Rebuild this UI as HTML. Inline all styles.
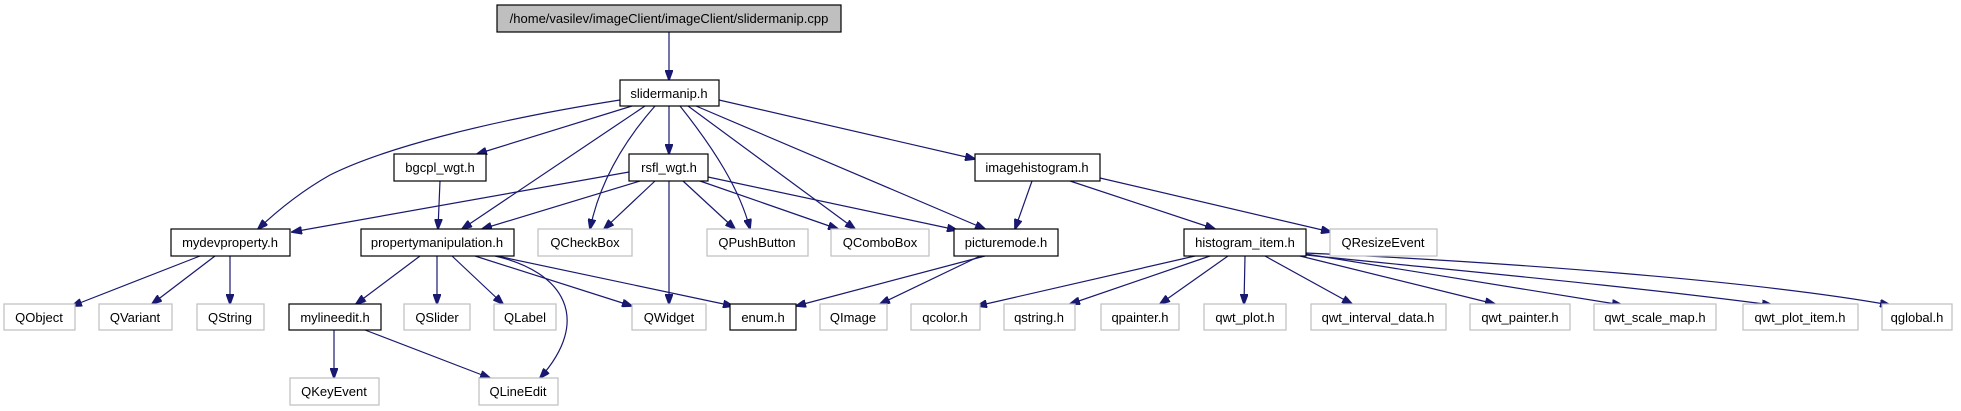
<!DOCTYPE html>
<html><head><meta charset="utf-8"><style>
html,body{margin:0;padding:0;background:#fff;}
svg{display:block;}
text{font-family:"Liberation Sans",sans-serif;font-size:13px;text-anchor:middle;fill:#000;}
.b{fill:#fff;stroke:#000;stroke-width:1.2;}
.g{fill:#fff;stroke:#bfbfbf;stroke-width:1.2;}
.r{fill:#bfbfbf;stroke:#000;stroke-width:1.2;}
path.e{fill:none;stroke:#191970;stroke-width:1.2;}
</style></head><body>
<svg width="1961" height="411" viewBox="0 0 1961 411" xmlns="http://www.w3.org/2000/svg">
<defs>
<marker id="a" markerWidth="11" markerHeight="8" refX="10" refY="4" orient="auto" markerUnits="userSpaceOnUse">
<path d="M0,0 L11,4 L0,8 z" fill="#191970" stroke="#191970"/>
</marker>
</defs>
<g marker-end="url(#a)">
<path class="e" d="M669,32 L669,80"/>
<path class="e" d="M620,100 C480,122 380,150 330,175 C300,192 278,210 258,229"/>
<path class="e" d="M632,106 L477,154"/>
<path class="e" d="M645,106 L462,229"/>
<path class="e" d="M655,106 C625,140 600,180 590,229"/>
<path class="e" d="M669,106 L669,154"/>
<path class="e" d="M680,106 C715,150 740,190 750,229"/>
<path class="e" d="M688,106 L855,229"/>
<path class="e" d="M696,106 L985,229"/>
<path class="e" d="M719,100 L975,159"/>
<path class="e" d="M629,172 L292,232"/>
<path class="e" d="M640,181 L482,229"/>
<path class="e" d="M655,181 L604,229"/>
<path class="e" d="M669,181 L669,304"/>
<path class="e" d="M683,181 L735,229"/>
<path class="e" d="M700,181 L838,229"/>
<path class="e" d="M708,177 L957,230"/>
<path class="e" d="M440,181 L438,229"/>
<path class="e" d="M1032,181 L1015,229"/>
<path class="e" d="M1070,181 L1215,229"/>
<path class="e" d="M1100,178 L1331,232"/>
<path class="e" d="M985,256 L796,306"/>
<path class="e" d="M980,256 L880,304"/>
<path class="e" d="M200,256 L72,306"/>
<path class="e" d="M215,256 L152,304"/>
<path class="e" d="M230,256 L230,304"/>
<path class="e" d="M420,256 L356,304"/>
<path class="e" d="M437,256 L437,304"/>
<path class="e" d="M452,256 L503,304"/>
<path class="e" d="M475,256 L632,306"/>
<path class="e" d="M497,256 L733,306"/>
<path class="e" d="M495,256 C565,272 592,320 540,378"/>
<path class="e" d="M334,330 L334,378"/>
<path class="e" d="M365,330 L490,378"/>
<path class="e" d="M1195,256 L977,306"/>
<path class="e" d="M1210,256 L1070,304"/>
<path class="e" d="M1228,256 L1160,304"/>
<path class="e" d="M1245,256 L1244,304"/>
<path class="e" d="M1265,256 L1352,304"/>
<path class="e" d="M1300,256 L1495,304"/>
<path class="e" d="M1306,254 L1622,305"/>
<path class="e" d="M1306,255 C1450,270 1620,285 1772,305"/>
<path class="e" d="M1306,253 C1500,262 1750,280 1890,305"/>
</g>
<rect class="r" x="497" y="5" width="344" height="27"/><text x="669" y="23">/home/vasilev/imageClient/imageClient/slidermanip.cpp</text>
<rect class="b" x="620" y="80" width="99" height="26"/><text x="669" y="98">slidermanip.h</text>
<rect class="b" x="394" y="154" width="92" height="27"/><text x="440" y="172">bgcpl_wgt.h</text>
<rect class="b" x="629" y="154" width="79" height="27"/><text x="669" y="172">rsfl_wgt.h</text>
<rect class="b" x="975" y="154" width="125" height="27"/><text x="1037" y="172">imagehistogram.h</text>
<rect class="b" x="171" y="229" width="119" height="27"/><text x="230" y="247">mydevproperty.h</text>
<rect class="b" x="361" y="229" width="153" height="27"/><text x="437" y="247">propertymanipulation.h</text>
<rect class="g" x="538" y="229" width="94" height="27"/><text x="585" y="247">QCheckBox</text>
<rect class="g" x="707" y="229" width="101" height="27"/><text x="757" y="247">QPushButton</text>
<rect class="g" x="831" y="229" width="98" height="27"/><text x="880" y="247">QComboBox</text>
<rect class="b" x="954" y="229" width="104" height="27"/><text x="1006" y="247">picturemode.h</text>
<rect class="b" x="1184" y="229" width="122" height="27"/><text x="1245" y="247">histogram_item.h</text>
<rect class="g" x="1330" y="229" width="107" height="27"/><text x="1383" y="247">QResizeEvent</text>
<rect class="g" x="4" y="304" width="71" height="26"/><text x="39" y="322">QObject</text>
<rect class="g" x="99" y="304" width="73" height="26"/><text x="135" y="322">QVariant</text>
<rect class="g" x="197" y="304" width="67" height="26"/><text x="230" y="322">QString</text>
<rect class="b" x="289" y="304" width="92" height="26"/><text x="335" y="322">mylineedit.h</text>
<rect class="g" x="404" y="304" width="66" height="26"/><text x="437" y="322">QSlider</text>
<rect class="g" x="494" y="304" width="62" height="26"/><text x="525" y="322">QLabel</text>
<rect class="g" x="632" y="304" width="74" height="26"/><text x="669" y="322">QWidget</text>
<rect class="b" x="730" y="304" width="66" height="26"/><text x="763" y="322">enum.h</text>
<rect class="g" x="820" y="304" width="67" height="26"/><text x="853" y="322">QImage</text>
<rect class="g" x="911" y="304" width="69" height="26"/><text x="945" y="322">qcolor.h</text>
<rect class="g" x="1004" y="304" width="71" height="26"/><text x="1039" y="322">qstring.h</text>
<rect class="g" x="1101" y="304" width="78" height="26"/><text x="1140" y="322">qpainter.h</text>
<rect class="g" x="1204" y="304" width="82" height="26"/><text x="1245" y="322">qwt_plot.h</text>
<rect class="g" x="1311" y="304" width="135" height="26"/><text x="1378" y="322">qwt_interval_data.h</text>
<rect class="g" x="1470" y="304" width="100" height="26"/><text x="1520" y="322">qwt_painter.h</text>
<rect class="g" x="1594" y="304" width="122" height="26"/><text x="1655" y="322">qwt_scale_map.h</text>
<rect class="g" x="1743" y="304" width="115" height="26"/><text x="1800" y="322">qwt_plot_item.h</text>
<rect class="g" x="1882" y="304" width="70" height="26"/><text x="1917" y="322">qglobal.h</text>
<rect class="g" x="290" y="378" width="89" height="27"/><text x="334" y="396">QKeyEvent</text>
<rect class="g" x="479" y="378" width="79" height="27"/><text x="518" y="396">QLineEdit</text>
</svg>
</body></html>
